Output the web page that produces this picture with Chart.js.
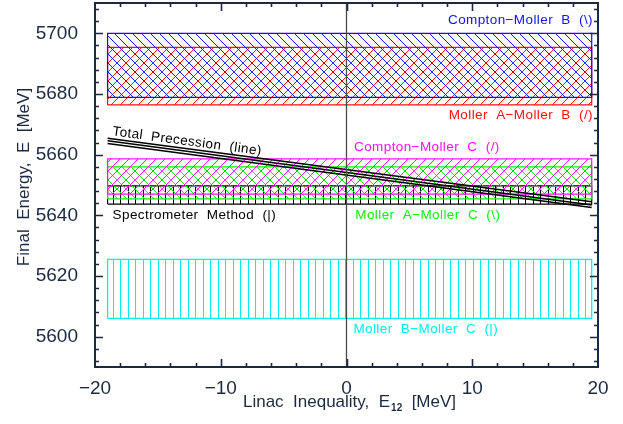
<!DOCTYPE html>
<html>
<head>
<meta charset="utf-8">
<script src="https://cdn.jsdelivr.net/npm/chart.js@4/dist/chart.umd.min.js"></script>
<style>
  html, body { margin: 0; padding: 0; background: #fff; }
</style>
</head>
<body>
<canvas id="chart" width="623" height="424"></canvas>
<script>
// ---- data ----
const xTickValues = [-20, -10, 0, 10, 20];
const yTickValues = [5600, 5620, 5640, 5660, 5680, 5700];

const bandNames = ['Compton-Moller B', 'Moller A-Moller B', 'Compton-Moller C',
                   'Moller A-Moller C', 'Spectrometer Method', 'Moller B-Moller C'];
const bandX = [-19, 19.5];
const bandLow = [5678.9, 5676.4, 5647.0, 5645.4, 5643.7, 5606.0];
const bandHigh = [5700.0, 5695.4, 5658.6, 5656.0, 5649.7, 5625.5];

const precessionX = [-19, 19.5];
const precessionUpper = [5665.4, 5644.5];
const precessionMid = [5664.6, 5643.4];
const precessionLower = [5663.7, 5642.6];

const zeroLineX = [0, 0];
const zeroLineY = [5590, 5710];

// ---- styles ----
const AXIS = '#1b2a41';
const FONT = '"Liberation Sans", Arial, sans-serif';
const bandColors = ['#1010ff', '#ff1010', '#ff10ff', '#10f010', '#000000', '#00eeee'];
const bandHatch = ['\\', '/', '/', '\\', '|', '|'];

const canvas = document.getElementById('chart');
const ctx = canvas.getContext('2d');

function hatch(color, kind) {
  const s = kind === '|' ? 15 : 9;
  const tile = document.createElement('canvas');
  tile.width = s; tile.height = s;
  const g = tile.getContext('2d');
  g.strokeStyle = color;
  g.lineWidth = 1;
  g.beginPath();
  if (kind === '|') {
    g.moveTo(0.5, 0); g.lineTo(0.5, s);
    g.moveTo(8.5, 0); g.lineTo(8.5, s);
  } else if (kind === '/') {
    for (const o of [-s, 0, s]) { g.moveTo(o, s); g.lineTo(o + s, 0); }
  } else {
    for (const o of [-s, 0, s]) { g.moveTo(o, 0); g.lineTo(o + s, s); }
  }
  g.stroke();
  return ctx.createPattern(tile, 'repeat');
}

function rect(i) {
  return [
    { x: bandX[0], y: bandLow[i] }, { x: bandX[0], y: bandHigh[i] },
    { x: bandX[1], y: bandHigh[i] }, { x: bandX[1], y: bandLow[i] },
    { x: bandX[0], y: bandLow[i] }
  ];
}

function pairs(xs, ys) {
  return xs.map((x, i) => ({ x, y: ys[i] }));
}

const lineStyle = { borderColor: '#000', borderWidth: 1.4, pointRadius: 0, fill: false, tension: 0 };

const datasets = [
  { label: 'zero', data: pairs(zeroLineX, zeroLineY), borderColor: '#4a4a4a', borderWidth: 1.3,
    pointRadius: 0, fill: false },
  { label: 'Total Precession', data: pairs(precessionX, precessionUpper), ...lineStyle },
  { label: 'Total Precession mid', data: pairs(precessionX, precessionMid), ...lineStyle },
  { label: 'Total Precession low', data: pairs(precessionX, precessionLower), ...lineStyle },
  ...bandNames.map((name, i) => ({
    label: name,
    data: rect(i),
    borderColor: bandColors[i],
    borderWidth: 1.2,
    backgroundColor: hatch(bandColors[i], bandHatch[i]),
    fill: 'shape',
    pointRadius: 0,
    tension: 0
  }))
];

// labels placed in data coordinates
const notes = [
  { text: 'Compton\u2212Moller  B  (\\)', x: 19.6, y: 5704.4, align: 'right', color: bandColors[0] },
  { text: 'Moller  A\u2212Moller  B  (/)', x: 19.6, y: 5673.1, align: 'right', color: bandColors[1] },
  { text: 'Compton\u2212Moller  C  (/)', x: 0.6, y: 5662.5, align: 'left', color: bandColors[2] },
  { text: 'Spectrometer  Method  (|)', x: -18.6, y: 5640.1, align: 'left', color: '#000' },
  { text: 'Moller  A\u2212Moller  C  (\\)', x: 0.7, y: 5640.1, align: 'left', color: bandColors[3] },
  { text: 'Moller  B\u2212Moller  C  (|)', x: 0.55, y: 5602.5, align: 'left', color: bandColors[5] }
];

const framePlugin = {
  id: 'frame',
  afterDraw(chart) {
    const c = chart.ctx;
    const a = chart.chartArea;
    const xs = chart.scales.x, ys = chart.scales.y;
    c.save();

    // inward ticks on all four sides
    c.strokeStyle = AXIS;
    c.lineWidth = 1.6;
    c.beginPath();
    for (let v = -18; v <= 18; v += 2) {
      const len = v % 10 === 0 ? 8 : 4;
      const px = Math.round(xs.getPixelForValue(v)) + 0.5;
      c.moveTo(px, a.bottom); c.lineTo(px, a.bottom - len);
      c.moveTo(px, a.top); c.lineTo(px, a.top + len);
    }
    for (let v = 5592; v <= 5708; v += 4) {
      const len = v % 20 === 0 ? 8 : 4;
      const py = Math.round(ys.getPixelForValue(v)) + 0.5;
      c.moveTo(a.left, py); c.lineTo(a.left + len, py);
      c.moveTo(a.right, py); c.lineTo(a.right - len, py);
    }
    c.stroke();
    c.lineWidth = 2;
    c.strokeRect(a.left, a.top, a.right - a.left, a.bottom - a.top);

    // annotations
    c.font = '13.5px ' + FONT;
    c.textBaseline = 'middle';
    c.letterSpacing = '0.4px';
    for (const n of notes) {
      c.fillStyle = n.color;
      c.textAlign = n.align;
      c.fillText(n.text, xs.getPixelForValue(n.x), ys.getPixelForValue(n.y));
    }
    // rotated precession label, follows the line slope
    const ang = Math.atan2(
      ys.getPixelForValue(precessionMid[1]) - ys.getPixelForValue(precessionMid[0]),
      xs.getPixelForValue(precessionX[1]) - xs.getPixelForValue(precessionX[0]));
    c.save();
    c.translate(xs.getPixelForValue(-18.6), ys.getPixelForValue(5667.6));
    c.rotate(ang);
    c.fillStyle = '#000';
    c.textAlign = 'left';
    c.fillText('Total  Precession  (line)', 0, 0);
    c.restore();
    c.letterSpacing = '0px';

    // axis titles
    c.fillStyle = AXIS;
    c.font = '17px ' + FONT;
    c.textBaseline = 'alphabetic';
    c.save();
    c.translate(29, 177);
    c.rotate(-Math.PI / 2);
    c.textAlign = 'center';
    c.fillText('Final  Energy,  E  [MeV]', 0, 0);
    c.restore();

    const p1 = 'Linac  Inequality,  E', sub = '12', p2 = '  [MeV]';
    c.font = '17px ' + FONT;
    const w1 = c.measureText(p1).width, w3 = c.measureText(p2).width;
    c.font = 'bold 10px ' + FONT;
    const w2 = c.measureText(sub).width;
    const x0 = 349 - (w1 + w2 + w3) / 2;
    const base = 407;
    c.textAlign = 'left';
    c.font = '17px ' + FONT;
    c.fillText(p1, x0, base);
    c.font = 'bold 10px ' + FONT;
    c.fillText(sub, x0 + w1 + 1, base + 4);
    c.font = '17px ' + FONT;
    c.fillText(p2, x0 + w1 + w2 + 1, base);
    c.restore();
  }
};

const tickFont = { family: FONT, size: 19 };

new Chart(canvas, {
  type: 'line',
  data: { datasets },
  plugins: [framePlugin],
  options: {
    responsive: false,
    devicePixelRatio: 1,
    animation: false,
    layout: { padding: { top: 3, right: 25, left: 0, bottom: 0 } },
    plugins: { legend: { display: false }, tooltip: { enabled: false } },
    scales: {
      x: {
        type: 'linear', min: -20, max: 20,
        grid: { display: false, drawTicks: false },
        border: { display: false },
        afterBuildTicks: s => { s.ticks = xTickValues.map(v => ({ value: v })); },
        afterFit: s => { s.height = 57; s.paddingLeft = 0; s.paddingRight = 0; },
        ticks: {
          color: AXIS, font: tickFont, padding: 10, maxRotation: 0, autoSkip: false,
          callback: v => String(v).replace('-', '\u2212')
        }
      },
      y: {
        type: 'linear', min: 5590, max: 5710,
        grid: { display: false, drawTicks: false },
        border: { display: false },
        afterBuildTicks: s => { s.ticks = yTickValues.map(v => ({ value: v })); },
        afterFit: s => { s.width = 95; s.paddingTop = 0; s.paddingBottom = 0; },
        ticks: { color: AXIS, font: tickFont, padding: 17, autoSkip: false, callback: v => String(v) }
      }
    }
  }
});
</script>
</body>
</html>
